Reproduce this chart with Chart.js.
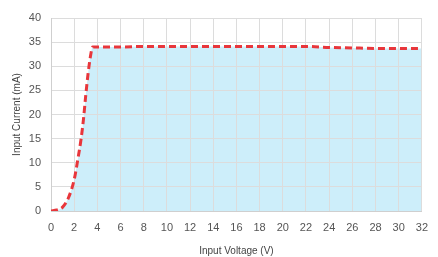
<!DOCTYPE html>
<html>
<head>
<meta charset="utf-8">
<script src="https://cdn.jsdelivr.net/npm/chart.js@4"></script>
<style>
  html, body { margin: 0; padding: 0; background: #fff; }
  #wrap { width: 438px; height: 257px; }
</style>
</head>
<body>
<div id="wrap"><canvas id="ivChart" width="438" height="257"></canvas></div>
<script>
// Input voltage (V) vs input current (mA)
const voltage = [0, 0.5, 1, 1.5, 2, 2.3, 2.6, 2.8, 3, 3.2, 3.4, 3.6, 4, 6, 8, 10, 12, 14, 16, 18, 20, 22, 24, 26, 28, 30, 32];
const current = [0, 0.2, 0.8, 2.7, 6.5, 10.5, 15, 19, 24, 28.5, 32, 34, 34, 34, 34.1, 34.1, 34.1, 34.1, 34.1, 34.1, 34.1, 34.1, 33.9, 33.8, 33.7, 33.7, 33.7];
const xTicks = [0, 2, 4, 6, 8, 10, 12, 14, 16, 18, 20, 22, 24, 26, 28, 30, 32];
const yTicks = [0, 5, 10, 15, 20, 25, 30, 35, 40];

const points = voltage.map((v, i) => ({ x: v, y: current[i] }));

const ctx = document.getElementById('ivChart').getContext('2d');
const ivChart = new Chart(ctx, {
    type: 'line',
    data: {
        datasets: [{
            label: 'Input Current',
            data: points,
            borderColor: '#e8363b',
            borderWidth: 3,
            borderDash: [7, 4],
            backgroundColor: '#cdeefa',
            fill: 'origin',
            pointRadius: 0,
            cubicInterpolationMode: 'monotone'
        }]
    },
    options: {
        responsive: false,
        animation: false,
        layout: { padding: { top: 18, right: 7, left: 0, bottom: 0 } },
        plugins: {
            legend: { display: false },
            tooltip: { enabled: false },
            // fill first, so the grid shows through it
            filler: { drawTime: 'beforeDraw' }
        },
        scales: {
            x: {
                type: 'linear',
                min: 0,
                max: 32,
                afterBuildTicks: axis => { axis.ticks = xTicks.map(v => ({ value: v })); },
                afterFit: axis => { axis.height = 46; },
                grid: { color: '#dcdcdc', drawTicks: false },
                border: { color: '#cfcfcf' },
                ticks: {
                    padding: 10,
                    color: '#555',
                    font: { family: 'Liberation Sans', size: 11 },
                    maxRotation: 0
                },
                title: {
                    display: true,
                    text: 'Input Voltage (V)',
                    color: '#444',
                    font: { family: 'Liberation Sans', size: 10 },
                    padding: { top: 10, bottom: 0 }
                }
            },
            y: {
                min: 0,
                max: 40,
                afterBuildTicks: axis => { axis.ticks = yTicks.map(v => ({ value: v })); },
                afterFit: axis => { axis.width = 51; },
                grid: { color: '#dcdcdc', drawTicks: false },
                border: { color: '#cfcfcf' },
                ticks: {
                    padding: 10,
                    color: '#555',
                    font: { family: 'Liberation Sans', size: 11 }
                },
                title: {
                    display: true,
                    text: 'Input Current (mA)',
                    color: '#444',
                    font: { family: 'Liberation Sans', size: 10 },
                    padding: { top: 11, bottom: 0 }
                }
            }
        }
    }
});
</script>
</body>
</html>
